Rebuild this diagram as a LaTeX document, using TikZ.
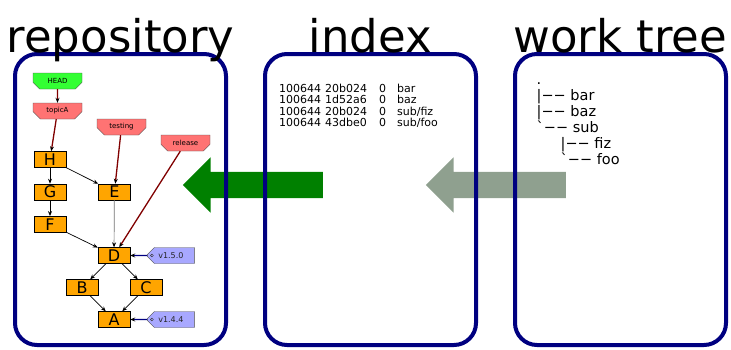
\documentclass[tikz,border=0pt]{standalone}
\usepackage{fontspec}
\setmainfont{DejaVu Sans}
\setsansfont{DejaVu Sans}
\usepackage{xcolor}
\definecolor{navy}{HTML}{000080}
\definecolor{darkred}{HTML}{800000}
\definecolor{commitgreen}{HTML}{008000}
\definecolor{addgray}{HTML}{8FA08F}
\definecolor{headgreen}{HTML}{33FF33}
\definecolor{branchred}{HTML}{FF7373}
\definecolor{tagblue}{HTML}{A8A8FF}
\definecolor{commitorange}{HTML}{FFA500}
\usetikzlibrary{arrows.meta, shapes, positioning}

\begin{document}
\begin{tikzpicture}[x=1pt, y=-1pt, every node/.style={font=\sffamily},
  panel/.style={draw=navy, line width=4pt, rounded corners=22pt, minimum width=211pt, minimum height=291pt, label distance=11pt},
  heading/.style={font=\sffamily\fontsize{45}{45}\selectfont, inner sep=0pt, outer sep=0pt, text depth=0pt},
  bigarrow/.style={single arrow, shape border rotate=180, draw=none, inner xsep=0pt, inner ysep=13pt, minimum height=140pt, minimum width=55pt, single arrow head extend=14.5pt, single arrow head indent=0pt},
  commit/.style={draw, fill=commitorange, inner sep=0pt, minimum width=32pt, minimum height=16pt, font=\sffamily\fontsize{16}{16}\selectfont},
  branch/.style={draw=black!70, fill=branchred, chamfered rectangle, chamfered rectangle corners={south west, south east}, chamfered rectangle xsep=4pt, chamfered rectangle ysep=4pt, inner sep=0pt, minimum width=49pt, minimum height=16pt, font=\sffamily\fontsize{7}{7}\selectfont},
  tag/.style={draw=black!70, fill=tagblue, chamfered rectangle, chamfered rectangle corners={north west, south west}, chamfered rectangle xsep=5pt, chamfered rectangle ysep=4pt, inner sep=0pt, minimum width=47pt, minimum height=16pt, text=black!85, font=\sffamily\fontsize{8}{8}\selectfont,
    path picture={\draw[black!80] ([xshift=4.5pt]path picture bounding box.west) circle (1.4pt);}},
  parentline/.style={-{Stealth[length=5pt, width=4pt, color=black]}, line width=0.7pt},
  branchline/.style={-{Stealth[length=5pt, width=4pt, color=black]}, darkred, line width=1.3pt},
  tagline/.style={-{Stealth[length=5pt, width=4pt, color=black]}, navy, line width=1.3pt}]
  \useasboundingbox (0,0) rectangle (731,349);

  % big arrows between the panels
  \node[bigarrow, fill=commitgreen] (commitarrow) at (259.5,185) {};
  \node[bigarrow, fill=addgray] (addarrow) at (502.5,185) {};

  % the three panels
  \node[panel, label={[heading]above:repository}] (repo) at (120.5,199.5) {};
  \node[panel, label={[heading]above:index}] (index) at (370.5,199.5) {};
  \node[panel, label={[heading]above:work tree}] (worktree) at (620.5,199.5) {};

  % index entries
  \node[anchor=base west, inner sep=0pt, font=\sffamily\fontsize{11}{10.8}\selectfont] (entries) at (279,92) {\begin{tabular}[t]{@{}l@{\hspace{4pt}}l@{\hspace{12pt}}l@{\hspace{11pt}}l@{}}
    100644 & 20b024 & 0 & bar\\
    100644 & 1d52a6 & 0 & baz\\
    100644 & 20b024 & 0 & sub/fiz\\
    100644 & 43dbe0 & 0 & sub/foo
  \end{tabular}};

  % work tree listing
  \node[anchor=base west, inner sep=0pt, font=\sffamily\fontsize{14.5}{15.7}\selectfont] (tree) at (536.5,84.5) {\begin{tabular}[t]{@{}l@{}}
    .\\
    |−− bar\\
    |−− baz\\
    \textasciigrave−− sub\\
    \hspace{24pt}|−− fiz\\
    \hspace{24pt}\textasciigrave−− foo
  \end{tabular}};

  % refs
  \node[branch, fill=headgreen] (HEAD) at (57.5,81) {HEAD};
  \node[branch] (topicA) at (57.5,111) {topicA};
  \node[branch] (testing) at (121.5,127) {testing};
  \node[branch] (release) at (185.5,143) {release};

  % commits
  \node[commit] (H) at (50,159.5) {H};
  \node[commit, below=16pt of H] (G) {G};
  \node[commit, below=16pt of G] (F) {F};
  \node[commit, right=32pt of G] (E) {E};
  \node[commit] (D) at (114,255.5) {D};
  \node[commit] (B) at (82,287.5) {B};
  \node[commit] (C) at (146,287.5) {C};
  \node[commit] (A) at (114,319.5) {A};

  % tags
  \node[tag, right=17pt of D] (v150) {v1.5.0};
  \node[tag, right=17pt of A] (v144) {v1.4.4};

  % parents
  \draw[parentline] (H) -- (G);
  \draw[parentline] (H) -- (E);
  \draw[parentline] (G) -- (F);
  \draw[parentline] (F) -- (D);
  \draw[parentline, black!55] (E) -- (D);
  \draw[parentline] (D) -- (B);
  \draw[parentline] (D) -- (C);
  \draw[parentline] (B) -- (A);
  \draw[parentline] (C) -- (A);

  % ref and tag pointers
  \draw[branchline] (HEAD) -- (topicA);
  \draw[branchline] (topicA) -- (H);
  \draw[branchline] (testing) -- (E);
  \draw[branchline] (release) -- (D);
  \draw[tagline] (v150) -- (D);
  \draw[tagline] (v144) -- (A);
\end{tikzpicture}
\end{document}
